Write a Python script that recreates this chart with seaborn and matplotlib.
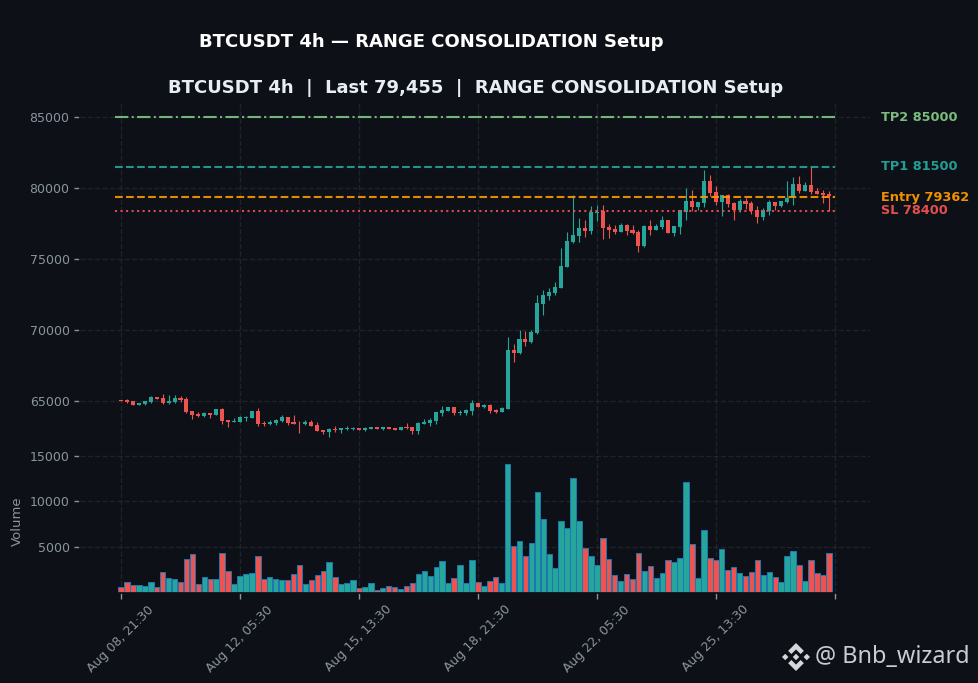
#!/usr/bin/env python3
# -*- coding: utf-8 -*-
import pandas as pd
import numpy as np
import matplotlib
matplotlib.use("Agg")
import matplotlib.pyplot as plt
from matplotlib.patches import Polygon
import seaborn as sns

### values (4h candles)
opens = [65090, 65090, 65000, 64740, 64810, 64950, 65300, 65235, 64880, 64950,
         65235, 65165, 64320, 64105, 63965, 64180, 64035, 64460, 63685, 63545,
         63545, 63825, 63825, 64320, 63470, 63400, 63475, 63615, 63895, 63545,
         63470, 63400, 63540, 63330, 62980, 62840, 63050, 62980, 63050, 63070,
         63120, 62980, 63050, 63190, 63050, 63190, 63120, 62980, 63190, 63190,
         62910, 63400, 63470, 63615, 64180, 64320, 64600, 64180, 64180, 64320,
         64880, 64600, 64740, 64390, 64250, 64460, 68615, 68400, 69390, 69180,
         69810, 71850, 72415, 72630, 72980, 74460, 76220, 76640, 77205, 76990,
         78280, 78400, 77275, 77135, 76925, 77415, 77065, 76925, 75935, 77345,
         77065, 77275, 77770, 76850, 77275, 78330, 79105, 78685, 78965, 80515,
         79740, 79035, 79530, 78965, 78470, 79105, 78965, 78470, 77980, 78400,
         79035, 78755, 79035, 79390, 80305, 79810, 80235, 79810, 79670, 79600]
closes = [65020, 64950, 64740, 64880, 65020, 65300, 65165, 64880, 65020, 65235,
          65090, 64250, 64035, 63965, 64180, 64035, 64460, 63615, 63545, 63615,
          63900, 63895, 64320, 63400, 63400, 63545, 63685, 63895, 63475, 63400,
          63450, 63545, 63260, 62910, 62840, 63050, 62980, 63120, 63120, 63120,
          62980, 63120, 63190, 63050, 63190, 63050, 62980, 63190, 63120, 62910,
          63470, 63545, 63685, 64250, 64390, 64600, 64180, 64250, 64390, 64880,
          64600, 64740, 64320, 64250, 64530, 68615, 68400, 69390, 69180, 69880,
          71925, 72485, 72700, 73050, 74530, 76290, 76710, 77205, 76990, 78330,
          78350, 77205, 77065, 76925, 77415, 76990, 76850, 75935, 77345, 77065,
          77345, 77770, 76850, 77345, 78470, 79105, 78685, 79035, 80515, 79670,
          79035, 79530, 78895, 78470, 79105, 78895, 78400, 77980, 78470, 79035,
          78755, 79105, 79320, 80305, 79810, 80235, 79740, 79600, 79530, 79455]
highs = [65120, 65165, 65020, 64880, 65020, 65375, 65300, 65517, 65446, 65446,
         65376, 65305, 64320, 64250, 64225, 64180, 64460, 64500, 63685, 63825,
         63925, 63965, 64320, 64530, 63615, 63685, 63755, 64035, 63895, 64035,
         63615, 63685, 63650, 63515, 62980, 63095, 63260, 63120, 63260, 63215,
         63120, 63165, 63190, 63190, 63190, 63190, 63120, 63190, 63470, 63190,
         63545, 63755, 63825, 64250, 64670, 64600, 64600, 64390, 64460, 65095,
         64880, 64810, 64810, 64460, 64600, 69505, 69035, 70000, 69930, 70000,
         72485, 72815, 72980, 73400, 75770, 76925, 79530, 77910, 77770, 78755,
         78825, 78825, 77490, 77415, 77555, 77490, 77415, 77065, 77415, 77770,
         77490, 78050, 77770, 77345, 78470, 80025, 79880, 79035, 81290, 80940,
         80165, 79530, 79600, 79035, 79250, 79320, 79105, 78755, 78615, 79180,
         79035, 79105, 80515, 80800, 80870, 80420, 81530, 80025, 79880, 79790]
lows = [65000, 64900, 64700, 64740, 64760, 64880, 65165, 64835, 64810, 64900,
        64976, 64180, 63780, 63920, 63920, 63850, 64035, 63400, 63215, 63545,
        63545, 63615, 63825, 63260, 63260, 63330, 63330, 63545, 63330, 63400,
        62790, 63330, 63260, 62910, 62700, 62485, 62840, 62770, 62980, 62980,
        62980, 62910, 63050, 63050, 63000, 63050, 62980, 62980, 63050, 62700,
        62700, 63400, 63260, 63400, 63965, 64320, 64035, 64035, 64035, 64035,
        64600, 64530, 64180, 64180, 64250, 64460, 67795, 68355, 68920, 69110,
        69765, 71100, 72135, 72485, 72980, 74460, 76150, 76220, 76570, 76780,
        77650, 76430, 76500, 76780, 76925, 76710, 76780, 75515, 75865, 76710,
        77065, 77135, 76850, 76640, 76780, 77770, 78400, 78470, 78685, 79460,
        78825, 78050, 78685, 77770, 78310, 78540, 78190, 77555, 77770, 78120,
        78470, 78685, 78965, 78825, 79670, 79810, 79600, 79600, 78965, 78400]
volumes = [564, 1128, 790, 790, 714, 1128, 564, 2256, 1617, 1466,
           1128, 3647, 4211, 940, 1692, 1466, 1466, 4324, 2369, 940,
           1805, 2068, 2181, 3948, 1466, 1692, 1466, 1354, 1354, 2068,
           2970, 902, 1354, 1955, 2369, 3384, 1692, 957, 1067, 1398,
           515, 626, 1067, 258, 515, 736, 626, 405, 736, 1067,
           2061, 2392, 1840, 2834, 3496, 1067, 1619, 3054, 1067, 3606,
           1178, 736, 1288, 1730, 1067, 14094, 5042, 5594, 4048, 5373,
           11003, 8022, 4269, 2723, 7802, 7029, 12549, 7802, 4821, 4048,
           3054, 5925, 3717, 1950, 1288, 2061, 1509, 4379, 2392, 2944,
           1619, 2171, 3606, 3386, 3827, 12107, 5262, 1619, 6808, 3827,
           3606, 4710, 2502, 2834, 2171, 1840, 2282, 3606, 1950, 2282,
           1730, 1178, 4048, 4490, 3054, 1288, 3606, 2171, 1950, 4379]

tick_positions = [0, 20, 40, 60, 80, 100, 120]
tick_labels = ["Aug 08, 21:30", "Aug 12, 05:30", "Aug 15, 13:30",
               "Aug 18, 21:30", "Aug 22, 05:30", "Aug 25, 13:30", ""]
price_ticks = [65000, 70000, 75000, 80000, 85000]
volume_ticks = [5000, 10000, 15000]

level_names = ["TP2", "TP1", "Entry", "SL"]
level_values = [85000, 81500, 79362, 78400]
level_colors = ["#81c784", "#26a69a", "#ff9800", "#ef5350"]
level_styles = ["-.", "--", "--", ":"]

BG = "#0d1117"
GREY = "#8b949e"
UP = "#26a69a"
DOWN = "#ef5350"

sns.set_theme(style="darkgrid", rc={
    "figure.facecolor": BG, "axes.facecolor": BG, "savefig.facecolor": BG,
    "grid.color": "#30363d", "grid.linestyle": "--", "grid.linewidth": 1.0,
    "grid.alpha": 0.5, "xtick.color": GREY, "ytick.color": GREY,
    "xtick.bottom": True, "ytick.left": True, "axes.edgecolor": BG,
    "font.family": "DejaVu Sans", "axes.labelcolor": GREY,
})

df = pd.DataFrame({"idx": np.arange(len(opens)), "open": opens, "close": closes,
                   "high": highs, "low": lows, "volume": volumes})
df["direction"] = np.where(df["close"] >= df["open"], "up", "down")
couleurs = df["direction"].map({"up": UP, "down": DOWN}).tolist()

fig = plt.figure(figsize=(9.79, 6.83), dpi=100)
ax_price = fig.add_axes([80 / 979, 1 - 440 / 683, 791 / 979, 337 / 683])
ax_vol = fig.add_axes([80 / 979, 1 - 592.5 / 683, 791 / 979, 152.5 / 683], sharex=ax_price)

### candles
ax_price.vlines(df["idx"], df["low"], df["high"], colors=couleurs, linewidth=0.8, zorder=2)
ax_price.bar(df["idx"], (df["close"] - df["open"]).abs(), bottom=df[["open", "close"]].min(axis=1),
             width=0.68, color=couleurs, linewidth=0, zorder=3)

### levels
for nom, val, coul, style in zip(level_names, level_values, level_colors, level_styles):
    ax_price.hlines(val, -1, 120, colors=coul, linestyles=style, linewidth=1.5, alpha=0.9, zorder=4)
    ax_price.text(127.7, val, f"{nom} {val}", color=coul, fontsize=9.3, fontweight="bold",
                  alpha=0.95, va="center", ha="left", clip_on=False)

ax_price.set_ylim(62270, 85990)
ax_price.set_yticks(price_ticks, [str(t) for t in price_ticks])
ax_price.tick_params(axis="x", length=0, labelbottom=False)
ax_price.tick_params(axis="y", labelsize=9, length=4, width=1)
ax_price.set_title("BTCUSDT 4h  |  Last 79,455  |  RANGE CONSOLIDATION Setup",
                   color="#e6edf3", fontsize=13, fontweight="bold", pad=7.5)

### volume
sns.barplot(data=df, x="idx", y="volume", hue="direction", palette={"up": UP, "down": DOWN},
            dodge=False, native_scale=True, width=0.92, saturation=1, legend=False,
            edgecolor="#1f77b4", linewidth=0.7, ax=ax_vol)
ax_vol.set_ylim(0, 16700)
ax_vol.set_yticks(volume_ticks, [str(t) for t in volume_ticks])
ax_vol.set_xticks(tick_positions, tick_labels, rotation=45)
ax_vol.tick_params(axis="x", labelsize=9, length=4, width=1)
ax_vol.tick_params(axis="y", labelsize=9, length=4, width=1)
ax_vol.set_xlabel("")
ax_vol.set_ylabel("Volume", color=GREY, fontsize=9.5)
ax_vol.yaxis.set_label_coords(-0.071, 0.47)
ax_vol.set_xlim(-6.9, 126.1)
ax_price.set_xlim(-6.9, 126.1)
ax_price.grid(True)
ax_vol.grid(True)
ax_price.set_axisbelow(True)
ax_vol.set_axisbelow(True)

fig.text(431 / 979, 1 - 42 / 683, "BTCUSDT 4h \u2014 RANGE CONSOLIDATION Setup", color="white",
         fontsize=13, fontweight="bold", ha="center", va="center")

### watermark
def logo(cx, cy, r, couleur):
    formes = [
        [(0, 1), (0.56, 0.44), (0.33, 0.21), (0, 0.54), (-0.33, 0.21), (-0.56, 0.44)],
        [(0, -1), (0.56, -0.44), (0.33, -0.21), (0, -0.54), (-0.33, -0.21), (-0.56, -0.44)],
        [(-0.77, 0.23), (-0.54, 0), (-0.77, -0.23), (-1, 0)],
        [(0.77, 0.23), (1, 0), (0.77, -0.23), (0.54, 0)],
        [(0, 0.23), (0.23, 0), (0, -0.23), (-0.23, 0)],
    ]
    for forme in formes:
        pts = [((cx + r * x) / 979, 1 - (cy - r * y) / 683) for x, y in forme]
        fig.add_artist(Polygon(pts, closed=True, color=couleur, linewidth=0, transform=fig.transFigure))

logo(796, 657, 14, "#d5d7da")
fig.text(815 / 979, 1 - 657 / 683, "@ Bnb_wizard", color="#c9cdd2", fontsize=16.9,
         family="Noto Sans", ha="left", va="center")

plt.savefig("out.png", dpi=100, facecolor=BG)
plt.close()
